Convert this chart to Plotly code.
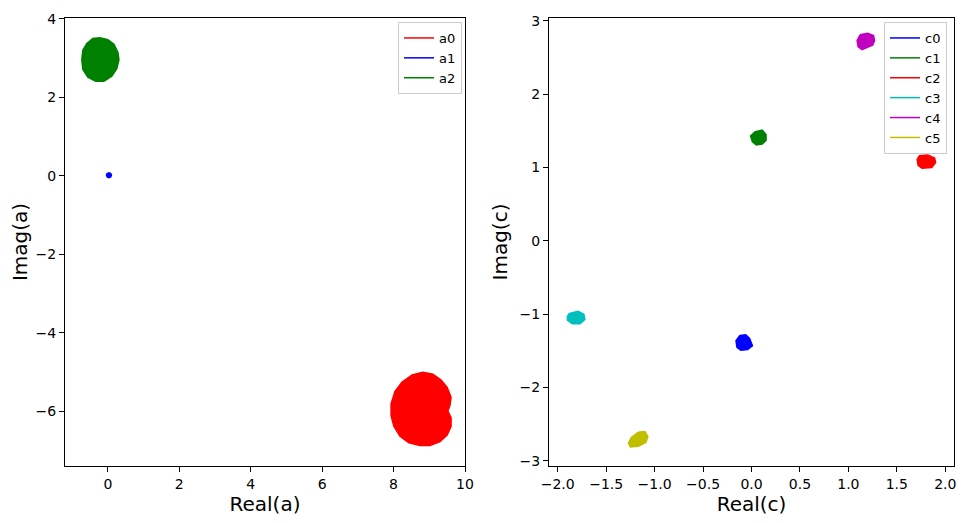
import plotly.graph_objects as go

# ---------------- data (outlines of the dense trajectory blobs) -------------
a_names = ["a0", "a1", "a2"]
a_colors = ["#ff0000", "#0000ff", "#008000"]
a0_re = [8.82, 9.10, 9.33, 9.50, 9.61, 9.58, 9.52, 9.61, 9.61, 9.50, 9.30, 9.02, 8.74, 8.43, 8.18, 8.01, 7.93, 7.93, 8.04, 8.24, 8.52]
a0_im = [-5.00, -5.05, -5.20, -5.39, -5.64, -5.84, -5.99, -6.16, -6.38, -6.60, -6.77, -6.87, -6.87, -6.80, -6.63, -6.38, -6.11, -5.81, -5.49, -5.25, -5.07]
a1_re = [0.03, 0.08, 0.10, 0.08, 0.03, -0.02, -0.04, -0.02]
a1_im = [0.08, 0.06, 0.02, -0.03, -0.05, -0.03, 0.02, 0.06]
a2_re = [-0.22, 0.00, 0.17, 0.28, 0.31, 0.25, 0.11, -0.11, -0.34, -0.56, -0.70, -0.73, -0.70, -0.59, -0.42]
a2_im = [3.52, 3.47, 3.35, 3.15, 2.96, 2.73, 2.54, 2.41, 2.41, 2.51, 2.71, 2.96, 3.20, 3.37, 3.50]

c_names = ["c0", "c1", "c2", "c3", "c4", "c5"]
c_colors = ["#0000ff", "#008000", "#ff0000", "#00bfbf", "#bf00bf", "#bfbf00"]
c0_re = [-0.12, -0.06, -0.02, 0.01, -0.04, -0.11, -0.15, -0.16]
c0_im = [-1.29, -1.28, -1.33, -1.43, -1.48, -1.49, -1.45, -1.36]
c1_re = [0.04, 0.11, 0.15, 0.15, 0.11, 0.05, 0.01, -0.01]
c1_im = [1.49, 1.51, 1.45, 1.37, 1.32, 1.31, 1.35, 1.43]
c2_re = [1.73, 1.82, 1.89, 1.90, 1.86, 1.76, 1.72, 1.71]
c2_im = [1.16, 1.17, 1.13, 1.07, 1.00, 0.99, 1.03, 1.11]
c3_re = [-1.88, -1.79, -1.73, -1.72, -1.77, -1.85, -1.90, -1.90]
c3_im = [-0.99, -0.96, -1.00, -1.07, -1.13, -1.13, -1.08, -1.03]
c4_re = [1.12, 1.20, 1.26, 1.27, 1.25, 1.18, 1.14, 1.10, 1.09]
c4_im = [2.81, 2.83, 2.80, 2.73, 2.67, 2.63, 2.61, 2.65, 2.73]
c5_re = [-1.17, -1.10, -1.07, -1.09, -1.17, -1.25, -1.27, -1.24]
c5_im = [-2.61, -2.60, -2.67, -2.75, -2.80, -2.81, -2.76, -2.68]

a_re = [a0_re, a1_re, a2_re]
a_im = [a0_im, a1_im, a2_im]
c_re = [c0_re, c1_re, c2_re, c3_re, c4_re, c5_re]
c_im = [c0_im, c1_im, c2_im, c3_im, c4_im, c5_im]

a_xticks = [0, 2, 4, 6, 8, 10]
a_yticks = [-6, -4, -2, 0, 2, 4]
c_xticks = [-2.0, -1.5, -1.0, -0.5, 0.0, 0.5, 1.0, 1.5, 2.0]
c_yticks = [-3, -2, -1, 0, 1, 2, 3]


def lab(v, fmt):
    return ("\u2212" if v < 0 else "") + fmt.format(abs(v))


# ---------------- figure ----------------
fig = go.Figure()
FONT = "DejaVu Sans"


def closed(v):
    return list(v) + [v[0]]


for name, col, xr, yi in zip(a_names, a_colors, a_re, a_im):
    fig.add_trace(go.Scatter(x=closed(xr), y=closed(yi), mode="lines", fill="toself",
                             fillcolor=col, line=dict(color=col, width=1.5),
                             showlegend=False, hoverinfo="skip", xaxis="x", yaxis="y"))
    fig.add_trace(go.Scatter(x=[None], y=[None], mode="lines", name=name,
                             line=dict(color=col, width=1.5), legend="legend",
                             xaxis="x", yaxis="y"))

for name, col, xr, yi in zip(c_names, c_colors, c_re, c_im):
    fig.add_trace(go.Scatter(x=closed(xr), y=closed(yi), mode="lines", fill="toself",
                             fillcolor=col, line=dict(color=col, width=1.5),
                             showlegend=False, hoverinfo="skip", xaxis="x2", yaxis="y2"))
    fig.add_trace(go.Scatter(x=[None], y=[None], mode="lines", name=name,
                             line=dict(color=col, width=1.5), legend="legend2",
                             xaxis="x2", yaxis="y2"))

# page body has an 8px margin: figure pixel = window pixel - 8
OFF = 8
W, H = 966 - OFF, 523 - OFF


def px_x(p):
    return (p - OFF) / W


def px_y(p):
    return (H - (p - OFF)) / H


ydom = [px_y(466), px_y(18)]

axis_common = dict(showline=True, linecolor="black", linewidth=1, mirror=True,
                   ticks="outside", ticklen=5, tickwidth=1, tickcolor="black",
                   showgrid=False, zeroline=False, automargin=False,
                   ticklabeloverflow="allow",
                   tickfont=dict(family=FONT, size=14, color="black"))

fig.update_layout(
    width=W, height=H,
    margin=dict(l=0, r=0, t=0, b=0, autoexpand=False),
    paper_bgcolor="white", plot_bgcolor="white",
    font=dict(family=FONT, color="black"),
    xaxis=dict(domain=[px_x(65), px_x(465)], range=[-1.2, 10.0], tickvals=a_xticks,
               ticktext=[lab(v, "{}") for v in a_xticks],
               title=dict(text="Real(a)", font=dict(size=20), standoff=2),
               anchor="y", **axis_common),
    yaxis=dict(domain=ydom, range=[-7.39, 4.02], tickvals=a_yticks,
               ticktext=[lab(v, "{}") for v in a_yticks],
               title=dict(text="Imag(a)", font=dict(size=20), standoff=6),
               anchor="x", **axis_common),
    xaxis2=dict(domain=[px_x(549), px_x(954)], range=[-2.09, 2.09], tickvals=c_xticks,
                ticktext=[lab(v, "{:.1f}") for v in c_xticks],
                title=dict(text="Real(c)", font=dict(size=20), standoff=2),
                anchor="y2", **axis_common),
    yaxis2=dict(domain=ydom, range=[-3.07, 3.04], tickvals=c_yticks,
                ticktext=[lab(v, "{}") for v in c_yticks],
                title=dict(text="Imag(c)", font=dict(size=20), standoff=6),
                anchor="x2", **axis_common),
    legend=dict(x=px_x(462), y=px_y(22), xanchor="right", yanchor="top",
                bgcolor="white", bordercolor="#cccccc", borderwidth=1,
                font=dict(family=FONT, size=13), tracegroupgap=0, itemwidth=30),
    legend2=dict(x=px_x(947), y=px_y(22), xanchor="right", yanchor="top",
                 bgcolor="white", bordercolor="#cccccc", borderwidth=1,
                 font=dict(family=FONT, size=13), tracegroupgap=0, itemwidth=30),
)

fig.write_html("out.html")
